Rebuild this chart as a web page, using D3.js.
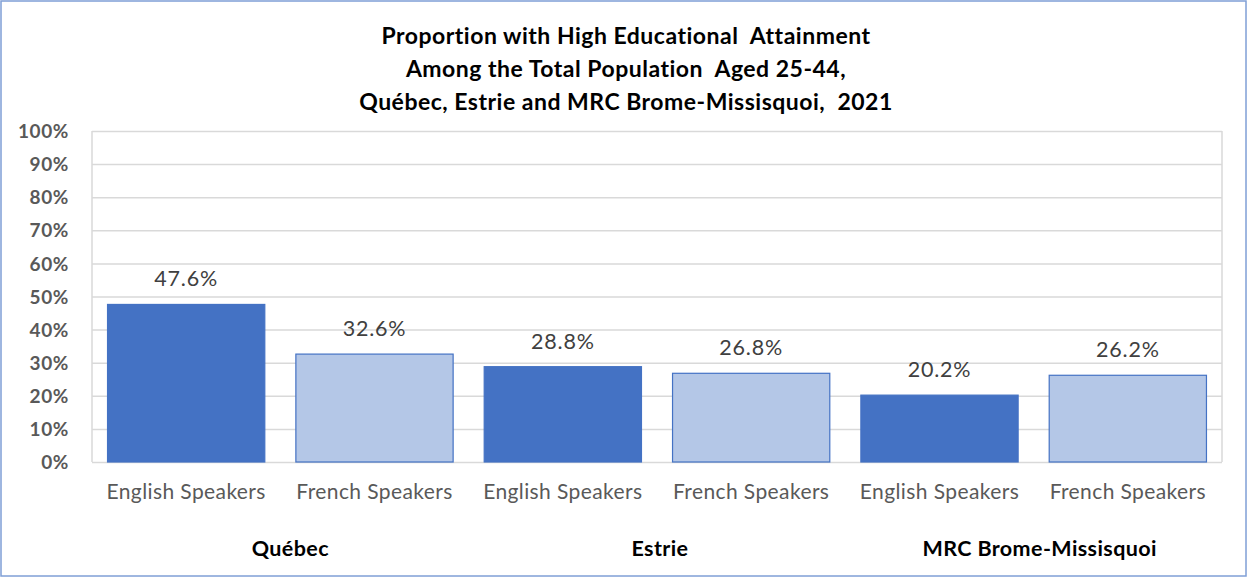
<!DOCTYPE html>
<html><head><meta charset="utf-8">
<script src="https://cdn.jsdelivr.net/npm/d3@7"></script>
<style>body{margin:0;background:#fff}svg{display:block}</style>
</head><body>
<svg id="c" width="1247" height="577"></svg>
<script>
const titleLines = ["Proportion with High Educational  Attainment", "Among the Total Population  Aged 25-44,", "Québec, Estrie and MRC Brome-Missisquoi,  2021"];
const groups = ["Québec", "Estrie", "MRC Brome-Missisquoi"];
const subCategories = ["English Speakers", "French Speakers"];
const values = [47.6, 32.6, 28.8, 26.8, 20.2, 26.2];
const yTicks = [0,10,20,30,40,50,60,70,80,90,100];

const W = 1247, H = 577;
const m = {left: 92, right: 25, top: 131, bottom: 115};
const svg = d3.select("#c");
const font = "Lato, 'Open Sans', sans-serif";

svg.append("rect").attr("x",1).attr("y",1).attr("width",W-2).attr("height",H-2)
  .attr("fill","#fff").attr("stroke","#7F9FD6").attr("stroke-width",1.5);

const bars = [];
groups.forEach((g,gi)=>subCategories.forEach((s,si)=>bars.push({g,s,i:gi*2+si,v:values[gi*2+si],si})));

const x = d3.scaleBand().domain(bars.map(d=>d.i)).range([m.left, W-m.right]).paddingInner(0.165).paddingOuter(0.0825);
const y = d3.scaleLinear().domain([0,100]).range([H-m.bottom, m.top]);

const gy = svg.append("g").attr("transform",`translate(${m.left},0)`)
  .call(d3.axisLeft(y).tickValues(yTicks).tickSize(-(W-m.left-m.right)).tickFormat(d=>d+"%"));
gy.select(".domain").remove();
gy.selectAll(".tick line").attr("stroke","#D9D9D9").attr("stroke-width",1.5);
gy.selectAll(".tick text").attr("x",-23).attr("fill","#595959").attr("font-family",font)
  .attr("font-weight","bold").attr("font-size",19).attr("letter-spacing",0.6).attr("dy","0.35em");

svg.append("line").attr("x1",m.left).attr("x2",m.left).attr("y1",m.top).attr("y2",H-m.bottom).attr("stroke","#D9D9D9").attr("stroke-width",1.5);
svg.append("line").attr("x1",W-m.right).attr("x2",W-m.right).attr("y1",m.top).attr("y2",H-m.bottom).attr("stroke","#D9D9D9").attr("stroke-width",1.5);

const colors = ["#4472C4","#B4C7E7"];
svg.selectAll("rect.bar").data(bars).join("rect").attr("class","bar")
  .attr("x",d=>x(d.i)).attr("width",x.bandwidth())
  .attr("y",d=>y(d.v)).attr("height",d=>y(0)-y(d.v))
  .attr("fill",d=>colors[d.si]).attr("stroke","#4472C4").attr("stroke-width",1.2);

svg.selectAll("text.val").data(bars).join("text").attr("class","val")
  .attr("x",d=>x(d.i)+x.bandwidth()/2).attr("y",d=>y(d.v)-18)
  .attr("text-anchor","middle").attr("fill","#404040").attr("font-family",font)
  .attr("font-size",21.5).attr("letter-spacing",0.8).text(d=>d.v.toFixed(1)+"%");

svg.selectAll("text.cat").data(bars).join("text").attr("class","cat")
  .attr("x",d=>x(d.i)+x.bandwidth()/2).attr("y",499)
  .attr("text-anchor","middle").attr("fill","#595959").attr("font-family",font)
  .attr("font-size",21).attr("letter-spacing",0.4).text(d=>d.s);

const groupOffsets = [10, 3, 6];
svg.selectAll("text.grp").data(groups).join("text").attr("class","grp")
  .attr("x",(d,gi)=>(x(gi*2)+x(gi*2+1)+x.bandwidth())/2 + groupOffsets[gi]).attr("y",556)
  .attr("text-anchor","middle").attr("fill","#000").attr("font-family",font)
  .attr("font-weight","bold").attr("font-size",21.5).attr("letter-spacing",0.4).text(d=>d);

svg.selectAll("text.title").data(titleLines).join("text").attr("class","title")
  .attr("x",626).attr("y",(d,i)=>44+i*33).attr("text-anchor","middle")
  .attr("fill","#000").attr("font-family",font).attr("font-weight","bold")
  .attr("font-size",23).attr("letter-spacing",0.5).attr("xml:space","preserve").style("white-space","pre").text(d=>d);
</script>
</body></html>
